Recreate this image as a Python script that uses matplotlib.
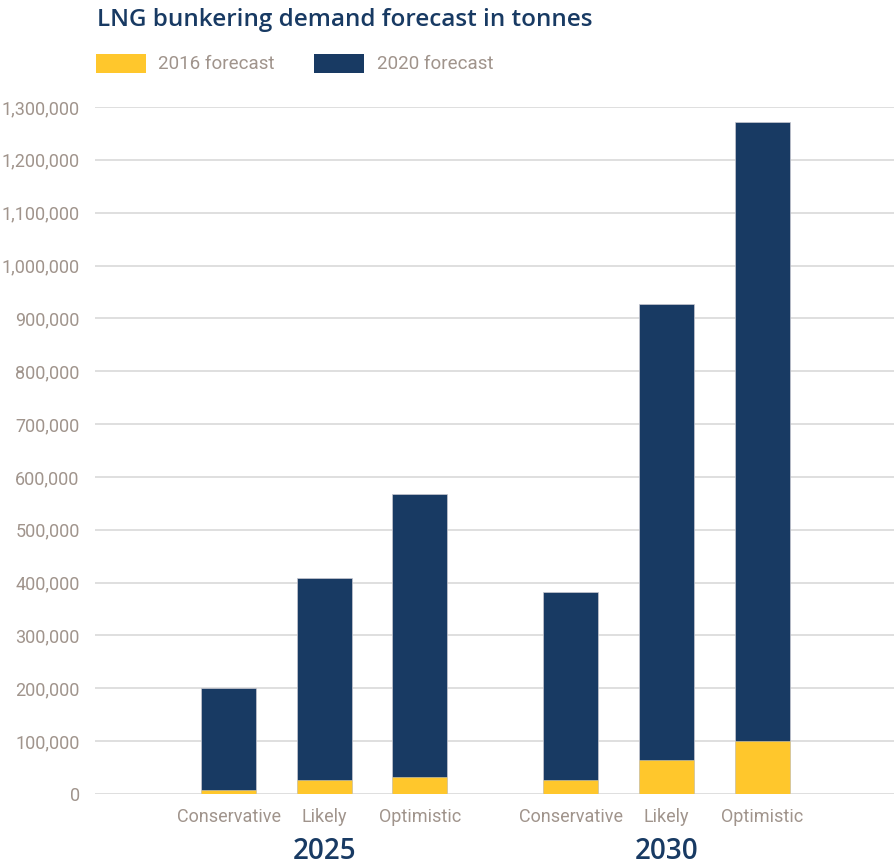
import matplotlib.pyplot as plt
from matplotlib.patches import Rectangle
from matplotlib.ticker import FuncFormatter

# Data
years = ["2025", "2030"]
scenarios = ["Conservative", "Likely", "Optimistic"]
forecast_2016 = [7500, 26000, 33000, 26000, 65000, 100000]
forecast_2020 = [200000, 408000, 568000, 382000, 927000, 1272000]
y_ticks = list(range(0, 1300001, 100000))

yellow = "#FFC72C"
navy = "#183A63"
grey_txt = "#A0948C"
label_font = ["Roboto", "DejaVu Sans"]
head_font = ["Open Sans", "DejaVu Sans"]

plt.rcParams["font.family"] = label_font

fig = plt.figure(figsize=(8.94, 8.64), dpi=100)
W, H = 894, 864
ax = fig.add_axes([95 / W, (H - 794) / H, (894 - 95) / W, (794 - 107) / H])

group_gap = 1.58
x = [0, 1, 2, 2 + group_gap, 3 + group_gap, 4 + group_gap]
width = 0.576

ax.bar(x, forecast_2020, width=width, color=navy, edgecolor="#c8c8d0", linewidth=0.5, zorder=2)
ax.bar(x, forecast_2016, width=width, color=yellow, edgecolor="#d8d0b8", linewidth=0.4, zorder=3)

ax.set_xlim(-1.40, 6.96)
ax.set_ylim(0, 1300000)
ax.set_yticks(y_ticks)
ax.yaxis.set_major_formatter(FuncFormatter(lambda v, p: f"{int(v):,}"))
ax.tick_params(axis="y", length=0, pad=11, labelsize=13, labelcolor=grey_txt)
ax.set_xticks(x)
ax.set_xticklabels(scenarios * 2)
ax.tick_params(axis="x", length=0, pad=10, labelsize=13, labelcolor=grey_txt)
ax.grid(axis="y", color="#dcdcdc", linewidth=1.3, zorder=0)
ax.set_axisbelow(True)
for s in ax.spines.values():
    s.set_visible(False)

# year labels under each group
for i, yr in enumerate(years):
    xc = x[3 * i + 1]
    ax.text(xc, -0.083, yr, transform=ax.get_xaxis_transform(), ha="center", va="center",
            fontsize=20, fontweight="semibold", color=navy, family=head_font)

# title
fig.text(97 / W, 1 - 20 / H, "LNG bunkering demand forecast in tonnes", ha="left", va="center",
         fontsize=17.5, fontweight="semibold", color=navy, family=head_font)

# legend
fig.add_artist(Rectangle((96 / W, 1 - 73 / H), 50 / W, 19 / H, transform=fig.transFigure,
                         facecolor=yellow, edgecolor="none"))
fig.text(158 / W, 1 - 64 / H, "2016 forecast", ha="left", va="center", fontsize=13.5, color=grey_txt)
fig.add_artist(Rectangle((314 / W, 1 - 73 / H), 50 / W, 19 / H, transform=fig.transFigure,
                         facecolor=navy, edgecolor="none"))
fig.text(377 / W, 1 - 64 / H, "2020 forecast", ha="left", va="center", fontsize=13.5, color=grey_txt)

fig.savefig("out.png", dpi=100)
